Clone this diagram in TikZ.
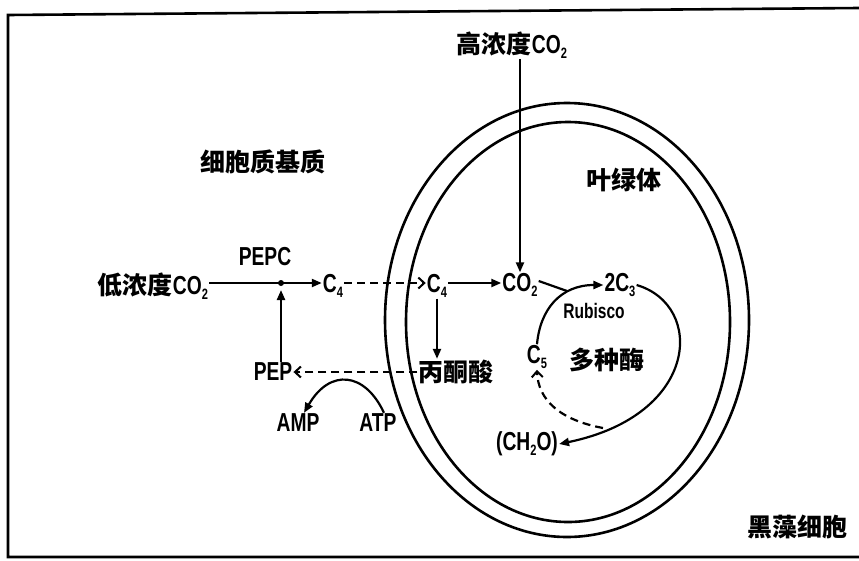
\documentclass[tikz,border=0pt]{standalone}
\usepackage{fontspec}
\setmainfont{Liberation Sans}[FakeStretch=0.74]
\newfontfamily\cjk{Noto Sans CJK SC}
\usetikzlibrary{arrows.meta}
\newcommand\sbs[1]{\raisebox{-0.35ex}{\fontsize{15}{15}\selectfont #1}}
\newcommand\latf{\fontsize{26}{26}\selectfont\rmfamily\bfseries}
\begin{document}
\begin{tikzpicture}[x=1pt,y=-1pt,
  lat/.style={font=\latf, inner sep=1pt},
  rub/.style={font=\fontsize{21}{21}\selectfont\bfseries, inner sep=1pt},
  zh/.style={font=\fontsize{25}{25}\selectfont\cjk\bfseries, inner sep=1pt},
  ln/.style={line width=2.2pt},
  memb/.style={line width=2.6pt},
  arr/.style={ln,-{Triangle[length=10pt,width=8pt]}},
  darr/.style={ln,dash pattern=on 8pt off 5pt,-{Straight Barb[length=6pt,width=11pt,line width=2pt]}}]
\useasboundingbox (0,0) rectangle (859,560);
% frame
\draw[memb] (859,8) -- (8,15) -- (8,557) -- (859,557);
% chloroplast membranes
\draw[memb] (567,320) ellipse [x radius=182pt, y radius=217pt];
\draw[memb] (568,322) ellipse [x radius=162pt, y radius=200pt];
% labels
\node[zh] (hi) at (512,45) {高浓度{\latf CO\sbs{2}}};
\node[zh] (cyto) at (263,162) {细胞质基质};
\node[zh] (chl) at (624,180) {叶绿体};
\node[lat] (pepc) at (265,257) {PEPC};
\node[zh] (lo) at (153,286) {低浓度{\latf CO\sbs{2}}};
\coordinate (dot) at (281,283);
\node[lat] (c4a) at (333,286) {C\sbs{4}};
\node[lat] (c4b) at (437,286) {C\sbs{4}};
\node[lat] (co2) at (520,285) {CO\sbs{2}};
\node[lat] (c3) at (620,285) {2C\sbs{3}};
\node[rub] (rubisco) at (594,311) {Rubisco};
\node[lat] (c5) at (537,357) {C\sbs{5}};
\node[zh] (enz) at (607,360) {多种酶};
\node[lat] (ch2o) at (527,444) {(CH\sbs{2}O)};
\node[zh] (pyr) at (456,372) {丙酮酸};
\node[lat] (pep) at (273,372) {PEP};
\node[lat] (amp) at (298,423) {AMP};
\node[lat] (atp) at (378,423) {ATP};
\node[zh] (cell) at (797,527) {黑藻细胞};
\coordinate (meet) at (567,291);
\coordinate (dstart) at (603,428);
% connectors
\draw[arr] (lo.east |- dot) -- (c4a.west |- dot);
\fill (dot) circle (3pt);
\draw[arr,shorten >=7pt] (pep.north -| dot) -- (dot);
\draw[darr] (c4a.east |- dot) -- (c4b.west |- dot);
\draw[arr] (c4b.east |- dot) -- (co2.west |- dot);
\draw[arr] (hi.south -| co2) -- (co2.north);
\draw[arr] (c4b.south) -- (pyr.north -| c4b);
\draw[darr] (pyr.west) -- (pep.east);
\draw[arr] ([xshift=6pt]atp.north) .. controls (365,372) and (330,368) .. ([xshift=6pt]amp.north);
\draw[ln] ([yshift=4pt]co2.east) -- (meet);
\draw[arr] (c5.north) .. controls (540,310) and (560,285) .. (c3.west);
\draw[arr] (c3.east) .. controls (705,305) and (700,415) .. (ch2o.east);
\draw[darr] (dstart) .. controls (560,420) and (538,400) .. (c5.south);
\end{tikzpicture}
\end{document}
